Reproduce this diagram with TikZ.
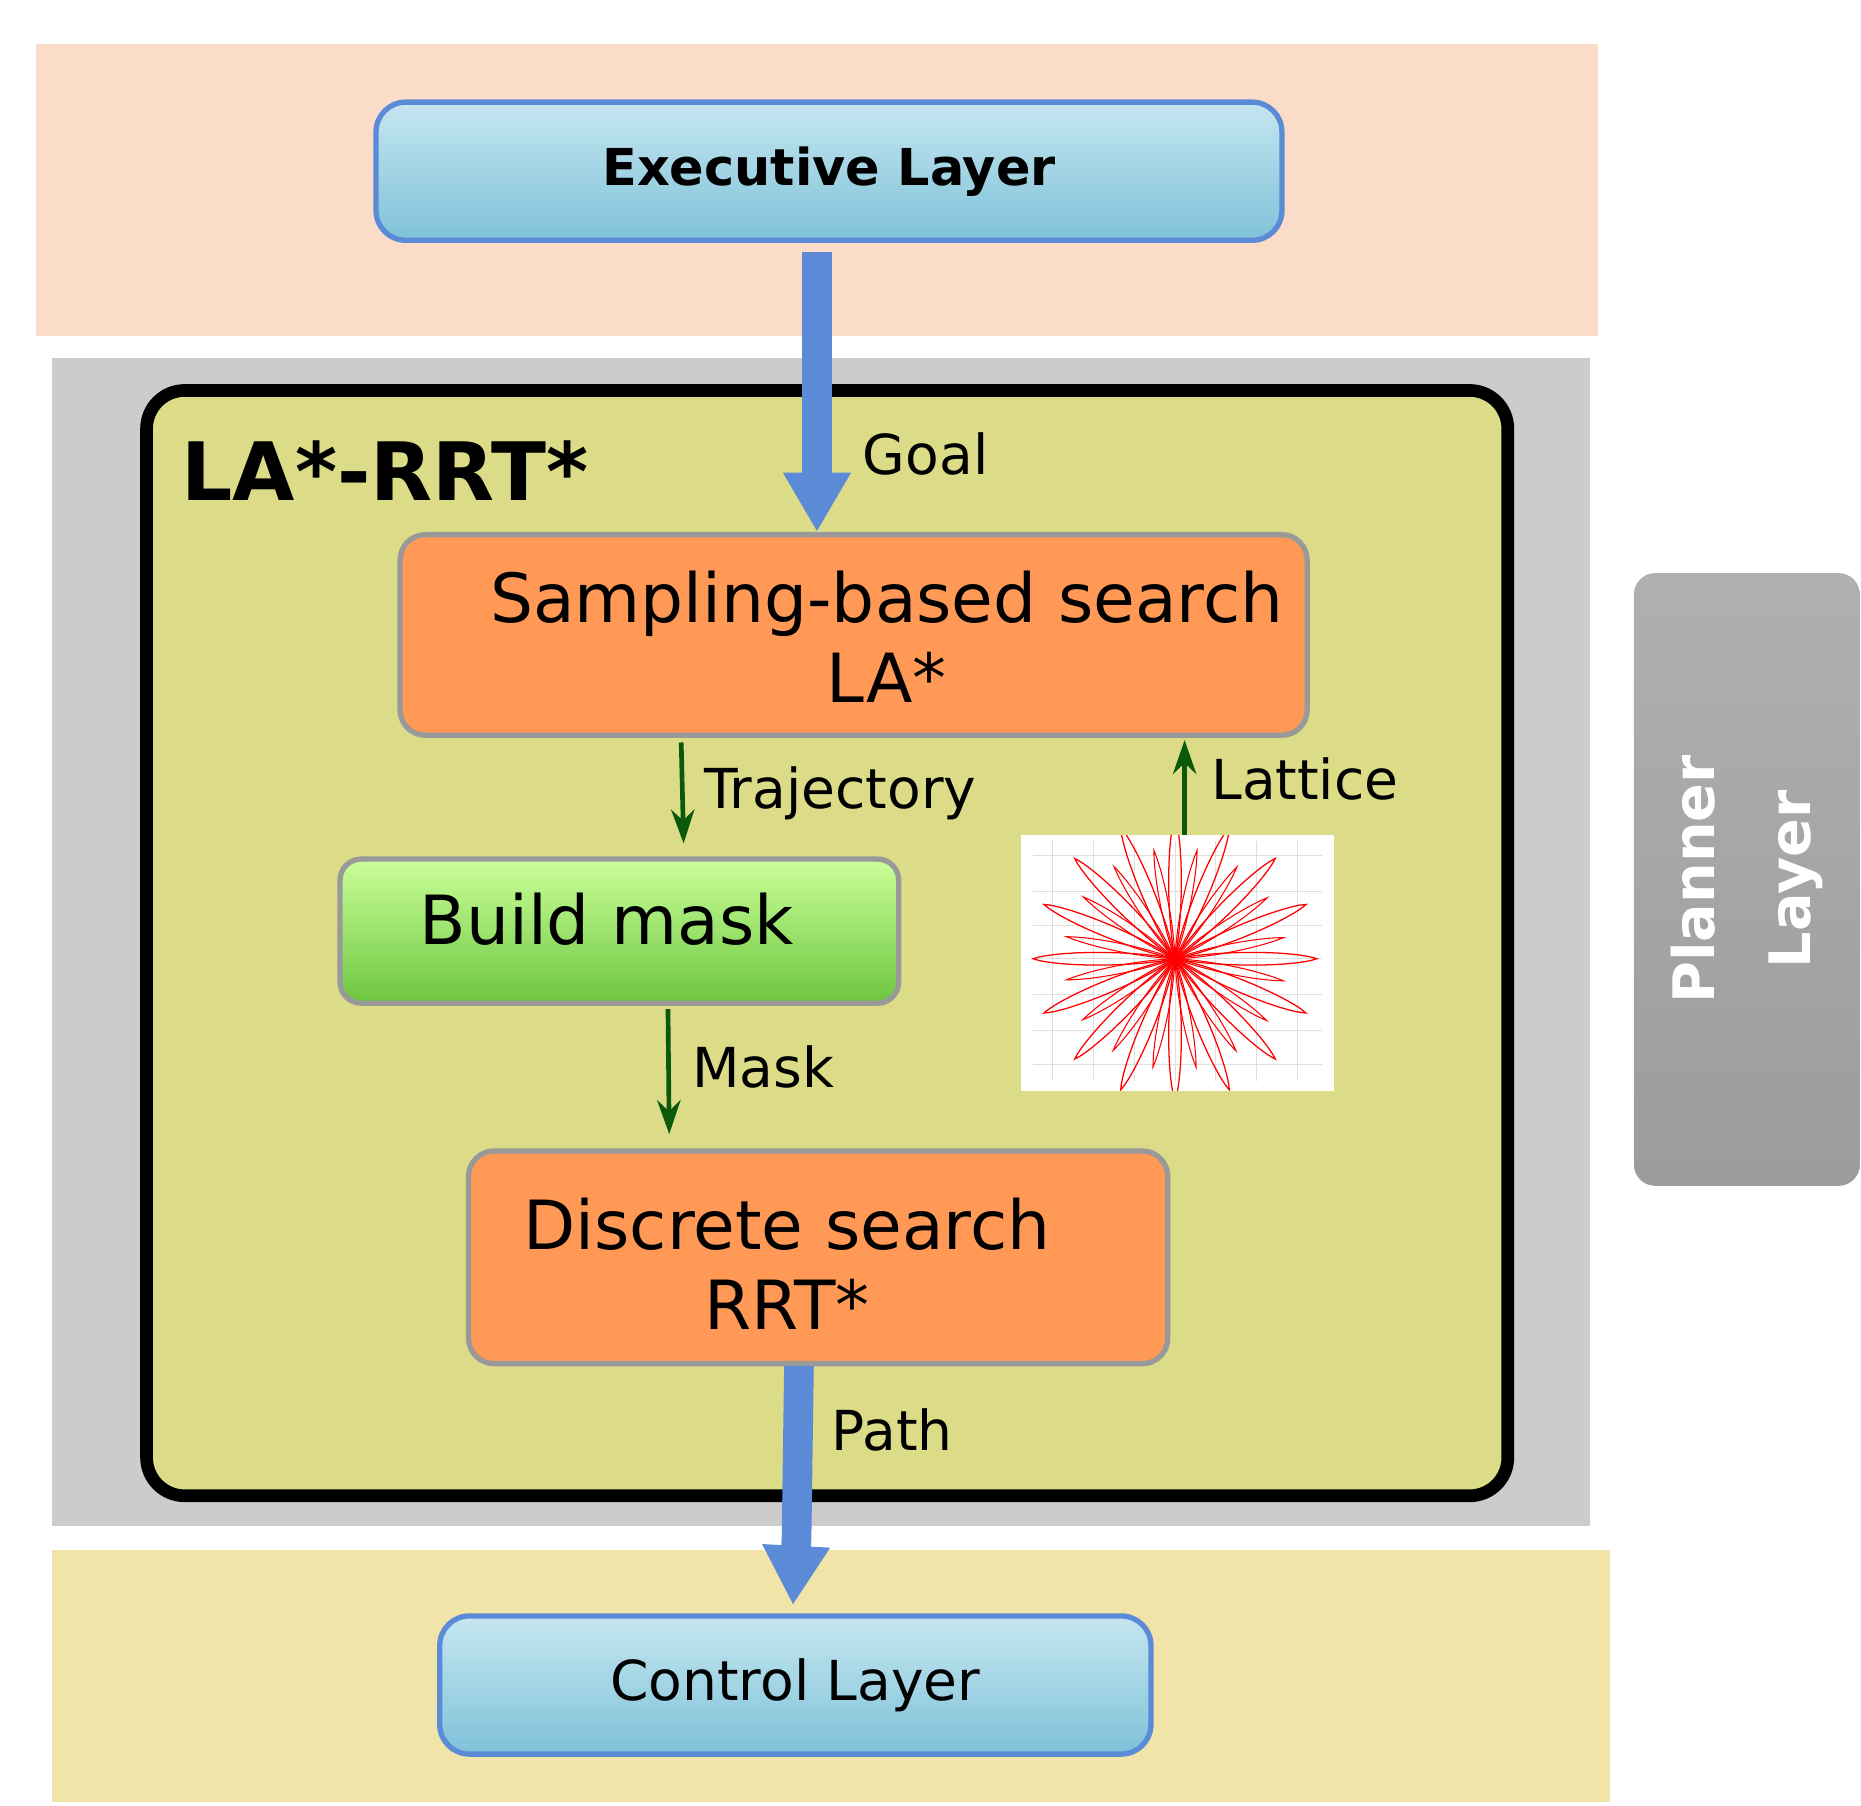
\documentclass[tikz,border=0pt]{standalone}
\usepackage{fontspec}
\setmainfont{DejaVu Sans}
\usetikzlibrary{fit,arrows.meta,positioning}
\definecolor{peach}{HTML}{FBDCC8}
\definecolor{band}{HTML}{CCCCCC}
\definecolor{olive}{HTML}{DCDC88}
\definecolor{ctrl}{HTML}{F0E4A8}
\definecolor{orng}{HTML}{FF9955}
\definecolor{bl}{HTML}{5B8BD6}
\definecolor{dgreen}{HTML}{0B5A0B}
\tikzset{
 bandbox/.style={inner sep=0,draw=none},
 bluebox/.style={inner sep=0,rounded corners=14pt,draw=bl,line width=2.5pt,top color=HTML-c5,bottom color=HTML-c7},
 HTML-c5/.code={}, HTML-c7/.code={},
 orbox/.style={inner sep=0,rounded corners=12pt,draw=gray!80,line width=2.5pt,fill=orng},
 txt/.style={font=\fontsize{32}{38}\selectfont,align=center},
 lbl/.style={font=\fontsize{26}{30}\selectfont,anchor=west},
 bigarrow/.style={draw=bl,line width=14pt,-{Triangle[width=30pt,length=28pt]}},
 garrow/.style={draw=dgreen,line width=2.2pt,-{Stealth[width=11pt,length=16pt]}}
}
\definecolor{ltop}{HTML}{C5E6F0}
\definecolor{lbot}{HTML}{7FC2D9}
\begin{document}
\begin{tikzpicture}[x=0.567pt,y=-0.567pt]
\useasboundingbox (0,0) rectangle (1549,1503);
% bands
\node[bandbox,fill=peach,fit={(30,37)(1330,280)}] (execband) {};
\node[bandbox,fill=band,fit={(43,298)(1323,1270)}] (planband) {};
\node[bandbox,fill=ctrl,fit={(43,1290)(1340,1500)}] (ctrlband) {};
% planner side box
\node[inner sep=0,rounded corners=10pt,top color=gray!62,bottom color=gray!78,fit={(1360,477)(1548,987)}] (planner) {};
\node[rotate=90,font=\bfseries\fontsize{27}{45}\selectfont,text=white,align=center] at (planner) {Planner\\Layer};
% exec box
\node[inner sep=0,rounded corners=14pt,draw=bl,line width=2.5pt,top color=ltop,bottom color=lbot,fit={(313,85)(1067,200)}] (exec) {};
\node[font=\bfseries\fontsize{24}{28}\selectfont] at (exec) {Executive Layer};
% LA*-RRT* box
\node[inner sep=0,rounded corners=18pt,draw=black,line width=6pt,fill=olive,fit={(122,325)(1255,1245)}] (la) {};
\node[font=\bfseries\fontsize{38}{44}\selectfont,anchor=west] (latitle) at (145,392) {LA*-RRT*};
% sampling
\node[orbox,fit={(333,445)(1088,612)}] (samp) {};
\node[txt] (samptxt) at (738,530) {Sampling-based search\\LA*};
% build mask
\node[inner sep=0,rounded corners=10pt,draw=gray!80,line width=2.5pt,top color=green!35!lime!40,bottom color=green!55!lime!70!black!75,fit={(283,715)(748,835)}] (mask) {};
\node[txt] at (505,765) {Build mask};
% discrete
\node[orbox,fit={(390,958)(972,1135)}] (disc) {};
\node[txt] at (655,1052) {Discrete search\\RRT*};
% control
\node[inner sep=0,rounded corners=14pt,draw=bl,line width=2.5pt,top color=ltop,bottom color=lbot,fit={(366,1345)(958,1460)}] (ctrl) {};
\node[font=\fontsize{26}{30}\selectfont] at (ctrl) {Control Layer};
% lattice image
\node[inner sep=0,fill=white,fit={(850,695)(1110,908)}] (lattice) {};
\begin{scope}
\clip (850,695) rectangle (1110,908);
\draw[gray!25,line width=0.4pt] (860,712)--(1100,712) (860,742)--(1100,742) (860,770)--(1100,770) (860,798)--(1100,798) (860,828)--(1100,828) (860,858)--(1100,858) (860,886)--(1100,886);
\draw[gray!25,line width=0.4pt] (876,700)--(876,900) (910,700)--(910,900) (944,700)--(944,900) (978,700)--(978,900) (1012,700)--(1012,900) (1046,700)--(1046,900) (1080,700)--(1080,900);
\foreach \a in {0,22.5,...,337.5}{
 \draw[red,line width=0.6pt,rotate around={\a:(978,798)}] (978,798) .. controls (1020,790) and (1080,792) .. (1096,798) .. controls (1080,804) and (1020,806) .. (978,798);
 \draw[red,line width=0.5pt,rotate around={\a+11:(978,798)}] (978,798) .. controls (1010,793) and (1050,794) .. (1070,798) .. controls (1050,802) and (1010,803) .. (978,798);
}
\end{scope}
% arrows
\coordinate (goaltop) at (680,210);
\draw[bigarrow] (goaltop) -- (samp.north -| goaltop);
\node[lbl] at (712,378) {Goal};
\coordinate (trajs) at (567,618);
\coordinate (traje) at (569,702);
\draw[garrow] (trajs) -- (traje);
\node[lbl] at (580,660) {Trajectory};
\coordinate (lats) at (986,695);
\coordinate (late) at (986,616);
\draw[garrow] (lats) -- (late);
\node[lbl] at (1002,648) {Lattice};
\coordinate (masks) at (556,840);
\coordinate (maske) at (557,944);
\draw[garrow] (masks) -- (maske);
\node[lbl] at (570,888) {Mask};
\coordinate (pathe) at (660,1336);
\draw[bigarrow] (665,1137) -- (663,1280) -- (pathe);
\node[lbl] at (686,1190) {Path};
\end{tikzpicture}
\end{document}
